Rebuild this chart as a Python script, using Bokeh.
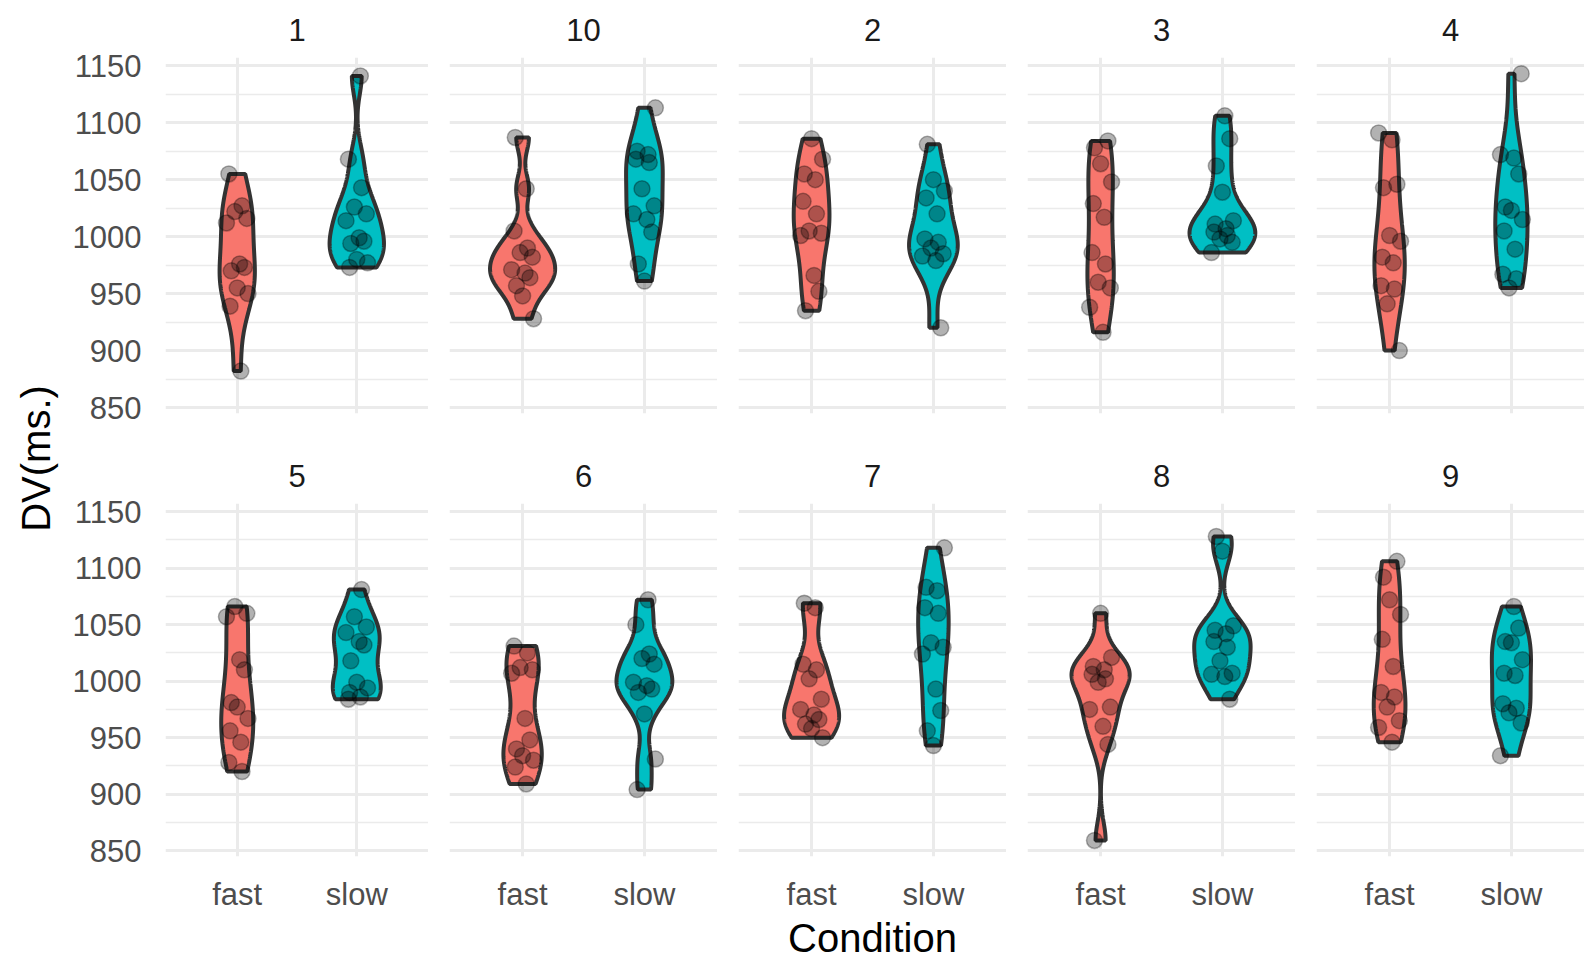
import numpy as np
from bokeh.plotting import figure
from bokeh.layouts import row, column
from bokeh.models import Range1d, FixedTicker, ColumnDataSource
from bokeh.core.properties import value
from bokeh.embed import file_html
from bokeh.resources import INLINE

# ---------------- data ----------------
panels = ["1", "10", "2", "3", "4", "5", "6", "7", "8", "9"]
conditions = ["fast", "slow"]
y_ticks = [850, 900, 950, 1000, 1050, 1100, 1150]
y_minor = [875, 925, 975, 1025, 1075, 1125]

p1_fast = [1055, 1027, 1022, 1016, 1012, 976, 973, 970, 955, 950, 939, 882]
p1_slow = [1141, 1068, 1043, 1026, 1020, 1014, 999, 996, 994, 980, 977, 973]
p10_fast = [1087, 1042, 1005, 990, 986, 982, 971, 968, 964, 957, 948, 928]
p10_slow = [1113, 1075, 1072, 1068, 1065, 1042, 1027, 1020, 1015, 1004, 976, 961]
p2_fast = [1086, 1068, 1055, 1050, 1031, 1020, 1005, 1003, 1001, 966, 952, 935]
p2_slow = [1081, 1050, 1040, 1034, 1020, 998, 995, 990, 985, 983, 979, 920]
p3_fast = [1084, 1078, 1064, 1048, 1029, 1017, 986, 976, 960, 955, 938, 916]
p3_slow = [1106, 1086, 1062, 1039, 1014, 1011, 1007, 1004, 1001, 998, 995, 986]
p4_fast = [1091, 1085, 1046, 1043, 1001, 996, 982, 977, 957, 954, 941, 900]
p4_slow = [1143, 1072, 1069, 1055, 1026, 1023, 1015, 1005, 989, 967, 963, 955]
p5_fast = [1066, 1060, 1057, 1019, 1010, 981, 977, 967, 956, 946, 928, 920]
p5_slow = [1081, 1057, 1048, 1043, 1035, 1032, 1018, 999, 994, 990, 986, 984]
p6_fast = [1031, 1025, 1012, 1010, 1007, 967, 948, 940, 934, 930, 924, 909]
p6_slow = [1072, 1050, 1024, 1020, 1015, 999, 996, 993, 990, 971, 931, 904]
p7_fast = [1069, 1065, 1015, 1010, 1002, 984, 975, 970, 966, 962, 958, 950]
p7_slow = [1118, 1083, 1080, 1065, 1060, 1034, 1030, 1024, 993, 974, 956, 943]
p8_fast = [1060, 1021, 1013, 1010, 1006, 1002, 999, 977, 975, 960, 944, 859]
p8_slow = [1128, 1115, 1049, 1045, 1042, 1035, 1030, 1018, 1007, 1006, 1004, 984]
p9_fast = [1106, 1092, 1072, 1059, 1037, 1013, 990, 986, 977, 965, 959, 946]
p9_slow = [1066, 1047, 1035, 1034, 1019, 1007, 1005, 980, 976, 972, 963, 934]

# fixed horizontal jitter pattern (category units)
jitter = [-0.07, 0.04, -0.02, 0.08, -0.09, 0.02, 0.06, -0.05, 0.00, 0.09, -0.06, 0.03]

data = {
    "1": (p1_fast, p1_slow), "10": (p10_fast, p10_slow), "2": (p2_fast, p2_slow),
    "3": (p3_fast, p3_slow), "4": (p4_fast, p4_slow), "5": (p5_fast, p5_slow),
    "6": (p6_fast, p6_slow), "7": (p7_fast, p7_slow), "8": (p8_fast, p8_slow),
    "9": (p9_fast, p9_slow),
}

colors = {"fast": "#F8766D", "slow": "#00BFC4"}
FONT = "Liberation Sans"

# ---------------- violin densities ----------------
def nrd0(x):
    x = np.asarray(x, float)
    sd = x.std(ddof=1)
    q75, q25 = np.percentile(x, [75, 25])
    lo = min(sd, (q75 - q25) / 1.34)
    if lo <= 0:
        lo = sd
    return 0.9 * lo * len(x) ** -0.2

def kde(x, grid):
    x = np.asarray(x, float)
    bw = nrd0(x)
    z = (grid[:, None] - x[None, :]) / bw
    return np.exp(-0.5 * z ** 2).sum(1) / (len(x) * bw * np.sqrt(2 * np.pi))

dens = {}
gmax = 0
for k, (f, s) in data.items():
    for cond, vals in zip(conditions, (f, s)):
        g = np.linspace(min(vals), max(vals), 512)
        d = kde(vals, g)
        dens[(k, cond)] = (g, d)
        gmax = max(gmax, d.max())

HALF = 0.27  # half-width of the widest violin, in category units

all_vals = np.concatenate([np.concatenate(v) for v in data.values()])
vmin, vmax = all_vals.min(), all_vals.max()
pad = 0.05 * (vmax - vmin)
y_lo, y_hi = vmin - pad, vmax + pad

# ---------------- panels ----------------
figs = []
for idx, name in enumerate(panels):
    r, c = divmod(idx, 5)
    left = 91 if c == 0 else 21
    top = 57
    bottom = 33 if r == 0 else 55
    w = left + 268
    h = top + 356 + bottom
    p = figure(width=w, height=h, x_range=Range1d(0.4, 2.6), y_range=Range1d(y_lo, y_hi),
               output_backend="svg", toolbar_location=None, title=name,
               min_border_left=left, min_border_right=0, min_border_top=top,
               min_border_bottom=bottom)
    p.outline_line_color = None
    p.background_fill_color = "white"
    p.border_fill_color = "white"
    p.title.align = "center"
    p.title.vertical_align = "top"
    p.title.text_font = FONT
    p.title.text_font_size = "31px"
    p.title.text_font_style = "normal"
    p.title.text_color = "#1A1A1A"
    p.title.standoff = 30

    # axes
    p.xaxis.ticker = FixedTicker(ticks=[1, 2])
    p.xaxis.major_label_overrides = {1: "fast", 2: "slow"}
    p.yaxis.ticker = FixedTicker(ticks=y_ticks, minor_ticks=y_minor)
    for ax in (p.xaxis, p.yaxis):
        ax.axis_line_color = None
        ax.major_tick_line_color = None
        ax.minor_tick_line_color = None
        ax.major_label_text_font = FONT
        ax.major_label_text_font_size = "31px"
        ax.major_label_text_color = "#4D4D4D"
    p.yaxis.major_label_standoff = 18
    p.xaxis.major_label_standoff = 14
    if c != 0:
        p.yaxis.visible = False
    if r == 0:
        p.xaxis.visible = False

    # grids
    p.xgrid.ticker = FixedTicker(ticks=[1, 2])
    p.ygrid.ticker = FixedTicker(ticks=y_ticks, minor_ticks=y_minor)
    p.xgrid.grid_line_color = "#EBEBEB"
    p.xgrid.grid_line_width = 3
    p.ygrid.grid_line_color = "#EBEBEB"
    p.ygrid.grid_line_width = 3
    p.ygrid.minor_grid_line_color = "#EBEBEB"
    p.ygrid.minor_grid_line_width = 1.6

    for ci, cond in enumerate(conditions):
        xc = ci + 1
        g, d = dens[(name, cond)]
        hw = d / gmax * HALF
        xs = np.concatenate([xc - hw, (xc + hw)[::-1]])
        ys = np.concatenate([g, g[::-1]])
        p.patch(xs, ys, fill_color=colors[cond], fill_alpha=1.0,
                line_color="#333333", line_width=4)
    for ci, cond in enumerate(conditions):
        xc = ci + 1
        vals = data[name][ci]
        jit = np.roll(jitter, idx * 2 + ci)[:len(vals)]
        src = ColumnDataSource(dict(x=xc + jit, y=vals))
        p.scatter("x", "y", source=src, size=16, fill_color="black", fill_alpha=0.3,
                  line_color="black", line_alpha=0.3, line_width=1.5)
    figs.append(p)

# ---------------- axis titles ----------------
ytf = figure(width=69, height=962, x_range=Range1d(0, 69), y_range=Range1d(0, 962),
             output_backend="svg", toolbar_location=None, x_axis_location=None,
             y_axis_location=None, min_border=0)
ytf.outline_line_color = None
ytf.grid.visible = False
ytf.text(x=[35], y=[504], text=["DV(ms.)"], angle=np.pi / 2, text_align="center",
         text_baseline="middle", text_font=value(FONT), text_font_size="40px",
         text_color="black")

xtf = figure(width=1515, height=46, x_range=Range1d(0, 1515), y_range=Range1d(0, 46),
             output_backend="svg", toolbar_location=None, x_axis_location=None,
             y_axis_location=None, min_border=0)
xtf.outline_line_color = None
xtf.grid.visible = False
xtf.text(x=[803], y=[23], text=["Condition"], text_align="center",
         text_baseline="middle", text_font=value(FONT), text_font_size="40px",
         text_color="black")

layout = row(ytf, column(row(*figs[:5]), row(*figs[5:]), xtf))

open("out.html", "w").write(file_html(layout, INLINE))
